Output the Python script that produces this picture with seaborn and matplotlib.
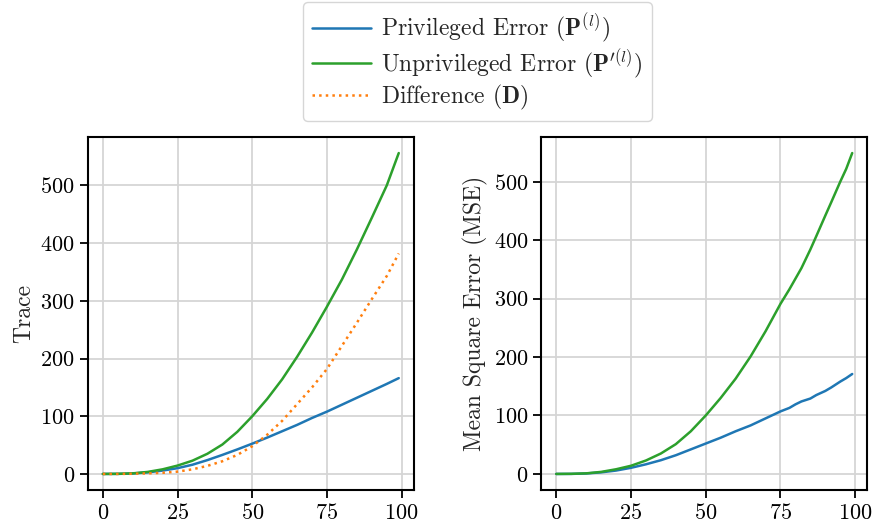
import numpy as np
import pandas as pd
import matplotlib
matplotlib.use("Agg")
import matplotlib.pyplot as plt
import seaborn as sns

# values (x = iteration)
steps = [0, 5, 10, 15, 20, 25, 30, 35, 40, 45, 50, 55, 60, 65, 70, 75, 80, 85, 90, 95, 99]

trace_priv = [0, 0.1, 0.8, 2.7, 5.8, 10, 16, 24, 33, 42.5, 52.5, 63, 74, 85, 97, 108, 120, 132, 144, 156, 166]
trace_unpriv = [0, 0.2, 1, 3.5, 8, 14.5, 23, 35, 51, 73, 100, 130, 164, 203, 245, 290, 337, 389, 444, 500, 556]
trace_diff = [0, 0, 0.3, 1, 2, 4, 8, 14, 22, 33, 48, 68, 92, 121, 150, 182, 222, 262, 303, 343, 382]

mse_steps = [0, 5, 10, 15, 20, 25, 30, 35, 40, 45, 50, 55, 60, 65, 70, 75, 78, 80, 82, 85, 87, 90, 92, 95, 97, 99]
mse_priv = [0, 0.1, 0.8, 2.7, 5.8, 10.5, 16.5, 23.5, 32, 42, 52, 62, 73, 83, 95, 107, 113, 119, 124, 129, 135, 142, 148, 158, 164, 171]
mse_unpriv = [0, 0.2, 1, 3.5, 8, 14, 23, 35, 51, 73, 100, 130, 163, 201, 244, 291, 316, 334, 352, 384, 407, 442, 465, 500, 522, 549]

blue, green, orange = "#1f77b4", "#2ca02c", "#ff7f0e"

sns.set_style("whitegrid")
plt.rcParams["font.family"] = "cmr10"
plt.rcParams["mathtext.fontset"] = "cm"
plt.rcParams["axes.formatter.use_mathtext"] = True
plt.rcParams["axes.edgecolor"] = "black"
plt.rcParams["axes.linewidth"] = 1.5
plt.rcParams["xtick.bottom"] = True
plt.rcParams["ytick.left"] = True
plt.rcParams["xtick.color"] = "black"
plt.rcParams["ytick.color"] = "black"
plt.rcParams["grid.color"] = "#d5d5d5"
plt.rcParams["grid.linewidth"] = 1.3
plt.rcParams["font.size"] = 16

df_trace = pd.DataFrame({"x": steps, "priv": trace_priv, "unpriv": trace_unpriv, "diff": trace_diff})
df_mse = pd.DataFrame({"x": mse_steps, "priv": mse_priv, "unpriv": mse_unpriv})

fig, (ax1, ax2) = plt.subplots(1, 2, figsize=(8.74, 5.3), dpi=100)
fig.subplots_adjust(left=0.1007, right=0.992, top=0.7415, bottom=0.0755, wspace=0.393)

sns.lineplot(data=df_trace, x="x", y="priv", ax=ax1, color=blue, lw=1.8,
             label=r"Privileged Error ($\mathbf{P}^{(l)}$)")
sns.lineplot(data=df_trace, x="x", y="unpriv", ax=ax1, color=green, lw=1.8,
             label=r"Unprivileged Error ($\mathbf{P}^{\prime(l)}$)")
sns.lineplot(data=df_trace, x="x", y="diff", ax=ax1, color=orange, lw=1.8, ls=":",
             label=r"Difference ($\mathbf{D}$)")
ax1.set_ylabel("Trace", fontsize=17)
ax1.set_xlabel("")

sns.lineplot(data=df_mse, x="x", y="priv", ax=ax2, color=blue, lw=1.8)
sns.lineplot(data=df_mse, x="x", y="unpriv", ax=ax2, color=green, lw=1.8)
ax2.set_ylabel("Mean Square Error (MSE)", fontsize=17)
ax2.set_xlabel("")

for ax in (ax1, ax2):
    ax.set_xticks([0, 25, 50, 75, 100])
    ax.set_yticks([0, 100, 200, 300, 400, 500])
    ax.tick_params(length=6, width=1.3, labelsize=16)

handles, labels = ax1.get_legend_handles_labels()
ax1.get_legend().remove()
leg = fig.legend(handles, labels, loc="upper center", bbox_to_anchor=(0.546, 1.0),
                 fontsize=17, frameon=True, fancybox=True, handlelength=2.5,
                 handletextpad=0.4, labelspacing=0.08, borderpad=0.4, borderaxespad=0.1)
leg.get_frame().set_edgecolor("#cccccc")

fig.savefig("out.png", dpi=100)
